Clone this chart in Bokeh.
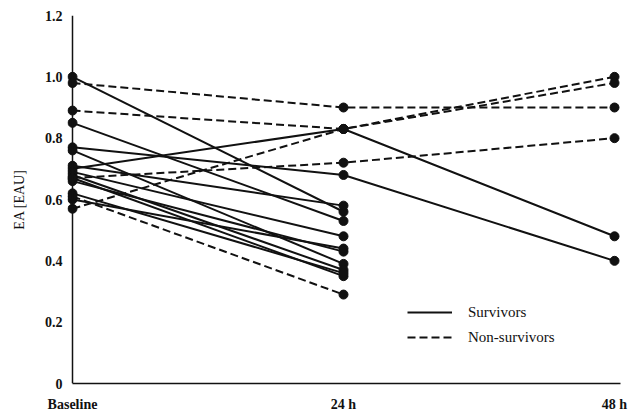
from bokeh.plotting import figure
from bokeh.models import Range1d, FixedTicker, Legend, LegendItem, Span
from bokeh.embed import file_html
from bokeh.resources import INLINE

# time points (hours) and their labels
times = [0, 24, 48]
time_labels = ["Baseline", "24 h", "48 h"]

# Survivors: EA at baseline, 24 h, 48 h (None = not measured)
surv_baseline = [1.00, 0.85, 0.77, 0.76, 0.70, 0.71, 0.69, 0.68, 0.67, 0.66, 0.62, 0.60]
surv_24h      = [0.56, 0.53, 0.68, 0.39, 0.83, 0.58, 0.48, 0.37, 0.35, 0.43, 0.36, 0.44]
surv_48h      = [None, None, 0.40, None, 0.48, None, None, None, None, None, None, None]

# Non-survivors
non_baseline = [0.98, 0.89, 0.57, 0.67, 0.61]
non_24h      = [0.90, 0.83, 0.83, 0.72, 0.29]
non_48h      = [0.90, 1.00, 0.98, 0.80, None]

y_ticks = [0, 0.2, 0.4, 0.6, 0.8, 1.0, 1.2]
y_tick_labels = ["0", "0.2", "0.4", "0.6", "0.8", "1.0", "1.2"]

FONT = "Liberation Serif"
INK = "#111111"

p = figure(width=632, height=416, output_backend="svg", toolbar_location=None,
           x_range=Range1d(-0.443, 48.53), y_range=Range1d(0, 1.2),
           min_border_left=67, min_border_right=12, min_border_top=15, min_border_bottom=33)
p.outline_line_color = None
p.grid.visible = False
p.background_fill_color = "white"

# axes
xa = p.xaxis[0]
xa.ticker = FixedTicker(ticks=times)
xa.major_label_overrides = {t: l for t, l in zip(times, time_labels)}
xa.bounds = (0, 48.53)
ya = p.yaxis[0]
ya.ticker = FixedTicker(ticks=y_ticks)
ya.major_label_overrides = {t: l for t, l in zip(y_ticks, y_tick_labels)}
ya.axis_label = "EA [EAU]"
ya.axis_label_text_font = FONT
ya.axis_label_text_font_size = "14px"
ya.axis_label_text_font_style = "normal"
ya.axis_label_text_color = INK
ya.axis_label_standoff = 15
for ax in (xa, ya):
    ax.axis_line_color = INK
    ax.axis_line_width = 1.5
    ax.major_tick_out = 0
    ax.major_tick_in = 0
    ax.minor_tick_out = 0
    ax.minor_tick_in = 0
    ax.major_label_text_font = FONT
    ax.major_label_text_font_style = "bold"
    ax.major_label_text_font_size = "14px"
    ax.major_label_text_color = INK
ya.axis_line_color = None
xa.major_label_standoff = 13
ya.major_label_standoff = 5

# y axis line drawn at x = Baseline
p.add_layout(Span(location=0, dimension="height", line_color=INK, line_width=1.5))


def draw(base, h24, h48, dash):
    first = None
    for b, a, c in zip(base, h24, h48):
        xs, ys = [], []
        for t, v in zip(times, [b, a, c]):
            if v is not None:
                xs.append(t)
                ys.append(v)
        r = p.line(xs, ys, line_color=INK, line_width=2, line_dash=dash)
        p.scatter(xs, ys, size=9, color=INK)
        if first is None:
            first = r
    return first


r_surv = draw(surv_baseline, surv_24h, surv_48h, "solid")
r_non = draw(non_baseline, non_24h, non_48h, "8 4")

legend = Legend(items=[LegendItem(label="Survivors", renderers=[r_surv]),
                       LegendItem(label="Non-survivors", renderers=[r_non])],
                location=(340, 36))
legend.border_line_color = None
legend.background_fill_alpha = 0
legend.padding = 0
legend.margin = 0
legend.spacing = 5
legend.glyph_height = 20
legend.glyph_width = 45
legend.label_standoff = 16
legend.label_text_font = FONT
legend.label_text_font_size = "15px"
legend.label_text_color = INK
p.add_layout(legend)

open("out.html", "w").write(file_html(p, INLINE))
